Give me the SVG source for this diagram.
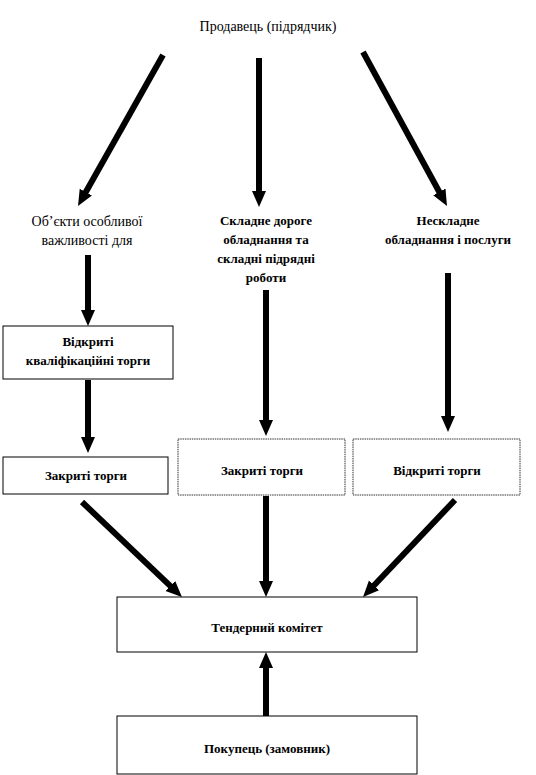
<svg xmlns="http://www.w3.org/2000/svg" width="536" height="775" viewBox="0 0 536 775">
<defs>
<marker id="ah" markerUnits="userSpaceOnUse" markerWidth="18" markerHeight="18" refX="6" refY="8" orient="auto">
<path d="M0,1 L16,8 L0,15 z" fill="#000"/>
</marker>
<style>
.box{fill:#fff;stroke:#000;stroke-width:1}
.dbox{fill:#fff;stroke:#333;stroke-width:1;stroke-dasharray:1.5 0.8}
.t{font-size:13px;font-weight:bold;fill:#000;text-anchor:middle}
.n{font-size:14px;fill:#000;text-anchor:middle}
.c line{stroke:#000;stroke-width:6;marker-end:url(#ah)}
</style>
</defs>
<rect width="536" height="775" fill="#fff"/>
<g font-family="Liberation Serif, DejaVu Serif, serif">
<g id="seller"><text class="n" x="268" y="31" font-size="14.5">Продавець (підрядчик)</text></g>
<g id="cat1"><text class="n" x="87" y="226">Об’єкти особливої</text><text class="n" x="87" y="245">важливості для</text></g>
<g id="cat2"><text class="t" x="266" y="225">Складне дороге</text><text class="t" x="266" y="244">обладнання та</text><text class="t" x="266" y="263">складні підрядні</text><text class="t" x="266" y="282">роботи</text></g>
<g id="cat3"><text class="t" x="448" y="225">Нескладне</text><text class="t" x="448" y="244">обладнання і послуги</text></g>
<g id="qual"><rect class="box" x="3" y="326" width="170" height="53"/><text class="t" x="88" y="346">Відкриті</text><text class="t" x="88" y="365">кваліфікаційні  торги</text></g>
<g id="closed1"><rect class="box" x="3" y="457" width="165" height="37"/><text class="t" x="86" y="480">Закриті торги</text></g>
<g id="closed2"><rect class="dbox" x="178" y="439" width="167" height="56"/><text class="t" x="262" y="475">Закриті торги</text></g>
<g id="open"><rect class="dbox" x="353" y="439" width="167" height="56"/><text class="t" x="437" y="475">Відкриті  торги</text></g>
<g id="committee"><rect class="box" x="117" y="597" width="300" height="55"/><text class="t" x="267" y="632">Тендерний комітет</text></g>
<g id="buyer"><rect class="box" x="117" y="716" width="300" height="58"/><text class="t" x="267" y="753">Покупець  (замовник)</text></g>
</g>
<g id="connectors" class="c">
<line x1="163" y1="55" x2="82.9" y2="197.3"/>
<line x1="259" y1="58" x2="259" y2="197"/>
<line x1="363" y1="52" x2="442.2" y2="197.2"/>
<line x1="88" y1="255" x2="88" y2="316"/>
<line x1="88" y1="380" x2="88" y2="443"/>
<line x1="266" y1="290" x2="266" y2="426"/>
<line x1="448" y1="273" x2="448" y2="422"/>
<line x1="82" y1="502" x2="174.7" y2="590.1"/>
<line x1="266" y1="496" x2="266" y2="587"/>
<line x1="455" y1="500" x2="369.9" y2="589.7"/>
<line x1="266" y1="716" x2="266" y2="662"/>
</g>
</svg>
